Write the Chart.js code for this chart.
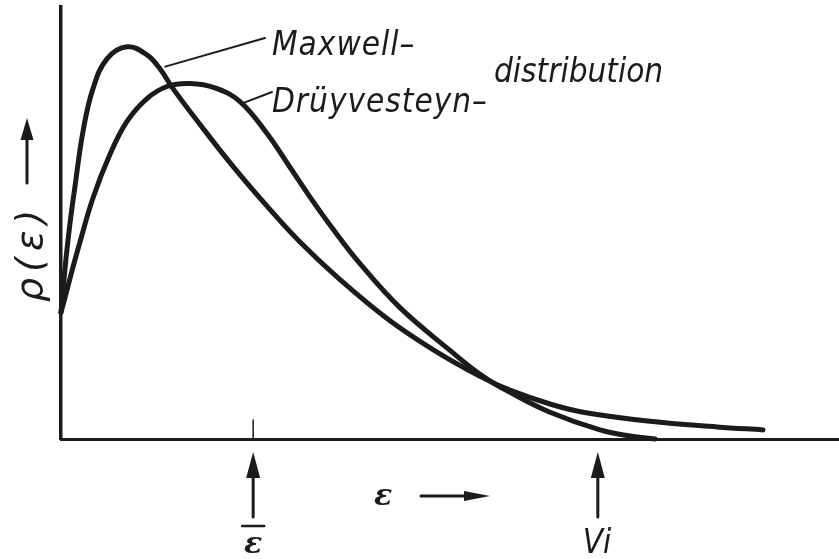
<!DOCTYPE html>
<html>
<head>
<meta charset="utf-8">
<script src="https://cdn.jsdelivr.net/npm/chart.js@4"></script>
<style>
  html, body { margin: 0; padding: 0; background: #fff; }
  #wrap { width: 839px; height: 559px; }
</style>
</head>
<body>
<div id="wrap"><canvas id="myChart" width="839" height="559"></canvas></div>
<script>
// energy (arbitrary units) and distribution values
const maxwellE   = [0, 0.026, 0.064, 0.116, 0.180, 0.283, 0.411, 0.591, 0.848, 1.105, 1.272, 1.440, 1.787, 2.211, 2.648, 3.072, 3.586, 4.190, 4.781, 5.386, 5.771, 6.285, 6.710, 7.571, 8.432, 9.023];
const maxwellRho = [0.293, 0.343, 0.417, 0.500, 0.585, 0.712, 0.811, 0.880, 0.908, 0.889, 0.857, 0.811, 0.728, 0.631, 0.539, 0.456, 0.369, 0.279, 0.207, 0.145, 0.113, 0.081, 0.062, 0.041, 0.028, 0.021];

const druyvE   = [0, 0.051, 0.141, 0.244, 0.411, 0.630, 0.848, 1.105, 1.362, 1.658, 1.979, 2.301, 2.648, 2.943, 3.201, 3.496, 3.843, 4.357, 5.000, 5.424, 5.771, 6.285, 6.928, 7.314, 7.635];
const druyvRho = [0.293, 0.327, 0.389, 0.456, 0.558, 0.659, 0.735, 0.788, 0.816, 0.823, 0.813, 0.781, 0.707, 0.629, 0.560, 0.486, 0.406, 0.304, 0.205, 0.145, 0.108, 0.062, 0.021, 0.007, 0.0];

const meanEnergy = 2.47;   // ε̄
const ionEnergy = 6.90;    // V_i

const ink = '#1b1b1b';

function toPoints(xs, ys) {
    let pts = [];
    for (let i = 0; i < xs.length; i++) {
        pts.push({x: xs[i], y: ys[i]});
    }
    return pts;
}

function arrow(ctx, x1, y1, x2, y2, head, width) {
    const ang = Math.atan2(y2 - y1, x2 - x1);
    const bx = x2 - head * Math.cos(ang), by = y2 - head * Math.sin(ang);
    ctx.beginPath();
    ctx.moveTo(x1, y1);
    ctx.lineTo(bx, by);
    ctx.stroke();
    ctx.beginPath();
    ctx.moveTo(x2, y2);
    ctx.lineTo(bx + width / 2 * Math.sin(ang), by - width / 2 * Math.cos(ang));
    ctx.lineTo(bx - width / 2 * Math.sin(ang), by + width / 2 * Math.cos(ang));
    ctx.closePath();
    ctx.fill();
}

const labels = {
    id: 'labels',
    afterDraw(chart) {
        const ctx = chart.ctx;
        const xs = chart.scales.x, ys = chart.scales.y;
        const base = ys.getPixelForValue(0);
        ctx.save();
        ctx.strokeStyle = ink;
        ctx.fillStyle = ink;
        ctx.lineCap = 'round';

        // leader lines from the curves to the names
        ctx.lineWidth = 2;
        ctx.beginPath();
        ctx.moveTo(xs.getPixelForValue(1.34), ys.getPixelForValue(0.862));
        ctx.lineTo(265, 38);
        ctx.moveTo(xs.getPixelForValue(2.33), ys.getPixelForValue(0.777));
        ctx.lineTo(272, 92);
        ctx.stroke();

        ctx.font = 'oblique 33px "DejaVu Sans Condensed", "DejaVu Sans"';
        ctx.textBaseline = 'alphabetic';
        ctx.letterSpacing = '1px';
        ctx.fillText('Maxwell–', 272, 55);
        ctx.fillText('Drüyvesteyn–', 272, 112);
        ctx.letterSpacing = '0px';
        ctx.fillText('distribution', 494, 82);

        // marker at mean energy
        const xm = xs.getPixelForValue(meanEnergy);
        ctx.lineWidth = 1.5;
        ctx.beginPath();
        ctx.moveTo(xm, base - 19);
        ctx.lineTo(xm, base);
        ctx.stroke();

        ctx.lineWidth = 3;
        arrow(ctx, xm, 517, xm, 452, 26, 14);
        const xi = xs.getPixelForValue(ionEnergy);
        arrow(ctx, xi, 517, xi, 452, 26, 14);

        ctx.font = 'italic bold 30px "DejaVu Serif"';
        ctx.textAlign = 'center';
        ctx.fillText('ε', xm, 553);
        ctx.lineWidth = 2.5;
        ctx.beginPath();
        ctx.moveTo(xm - 11, 526);
        ctx.lineTo(xm + 11, 526);
        ctx.stroke();

        ctx.font = 'oblique 33px "DejaVu Sans Condensed", "DejaVu Sans"';
        ctx.textAlign = 'left';
        ctx.fillText('Vi', xi - 15, 553);

        // x axis title
        ctx.font = 'italic bold 30px "DejaVu Serif"';
        ctx.fillText('ε', 374, 505);
        ctx.lineWidth = 3;
        arrow(ctx, 421, 496, 490, 496, 26, 10);

        // y axis title
        ctx.save();
        ctx.translate(42, 302);
        ctx.rotate(-Math.PI / 2);
        ctx.font = 'oblique 38px "DejaVu Sans"';
        ctx.letterSpacing = '6px';
        ctx.textAlign = 'left';
        ctx.fillText('ρ(ε)', 0, 0);
        ctx.restore();
        ctx.lineWidth = 3;
        arrow(ctx, 27, 183, 27, 118, 22, 13);

        ctx.restore();
    }
};

const ctx = document.getElementById('myChart').getContext('2d');
const chart = new Chart(ctx, {
    type: 'line',
    data: {
        datasets: [{
            label: 'Maxwell',
            data: toPoints(maxwellE, maxwellRho),
            borderColor: ink,
            borderWidth: 5,
            borderCapStyle: 'round',
            pointRadius: 0,
            tension: 0.4,
            clip: false
        }, {
            label: 'Druyvesteyn',
            data: toPoints(druyvE, druyvRho),
            borderColor: ink,
            borderWidth: 5,
            borderCapStyle: 'round',
            pointRadius: 0,
            tension: 0.4,
            clip: false
        }]
    },
    options: {
        responsive: false,
        animation: false,
        events: [],
        layout: { padding: { left: 53, top: 7, right: 0, bottom: 112 } },
        plugins: { legend: { display: false }, tooltip: { enabled: false } },
        scales: {
            x: {
                type: 'linear', min: 0, max: 10,
                grid: { display: false },
                ticks: { display: false },
                border: { color: ink, width: 3 }
            },
            y: {
                min: 0, max: 1,
                grid: { display: false },
                ticks: { display: false },
                border: { color: ink, width: 3.5 }
            }
        }
    },
    plugins: [labels]
});
</script>
</body>
</html>
